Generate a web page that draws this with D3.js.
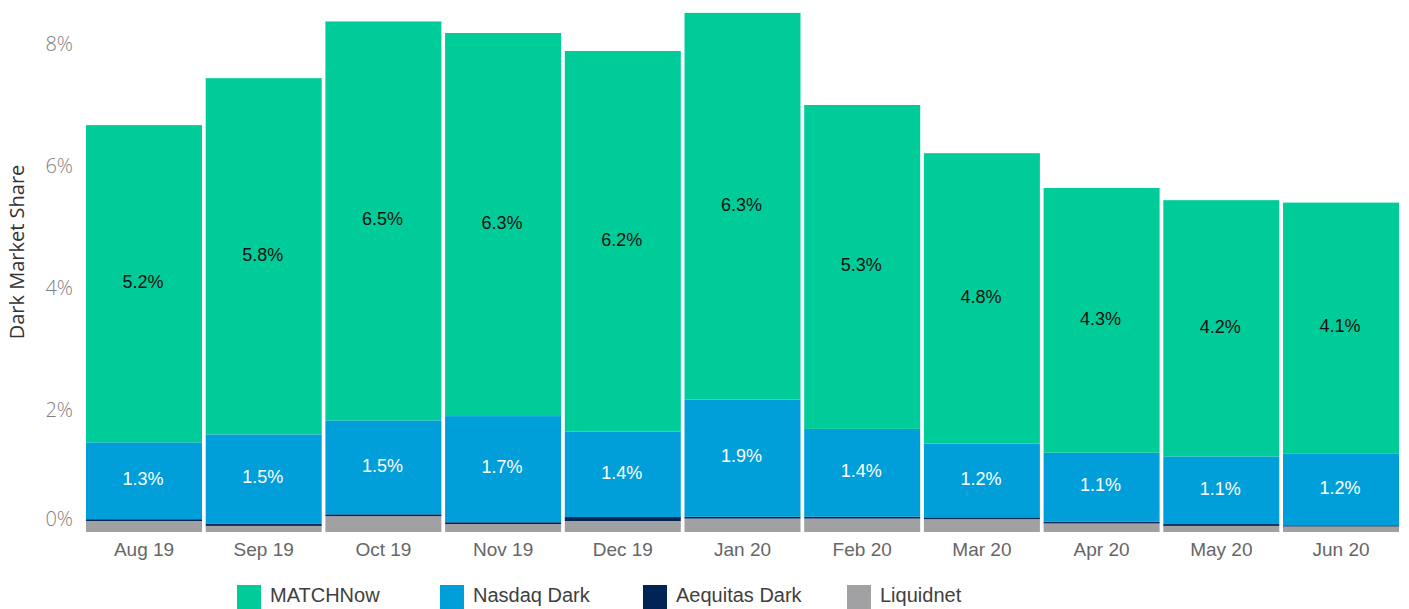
<!DOCTYPE html>
<html>
<head>
<meta charset="utf-8">
<script src="https://cdn.jsdelivr.net/npm/d3@7"></script>
<style>
  body { margin: 0; background: #fff; }
  svg { display: block; }
</style>
</head>
<body>
<figure id="chart" style="margin:0"></figure>
<script>
// months on the x axis
const months = ["Aug 19", "Sep 19", "Oct 19", "Nov 19", "Dec 19", "Jan 20",
                "Feb 20", "Mar 20", "Apr 20", "May 20", "Jun 20"];
// dark market share per venue, in %
const liquidnet = [0.18, 0.10, 0.26, 0.13, 0.18, 0.22, 0.22, 0.21, 0.14, 0.10, 0.09];
const aequitasDark = [0.03, 0.04, 0.03, 0.03, 0.065, 0.03, 0.03, 0.03, 0.03, 0.03, 0.02];
const nasdaqDark = [1.26, 1.46, 1.54, 1.74, 1.40, 1.92, 1.44, 1.21, 1.13, 1.11, 1.18];
const matchNow = [5.20, 5.84, 6.54, 6.28, 6.24, 6.34, 5.31, 4.76, 4.34, 4.20, 4.11];
const yTicks = [0, 2, 4, 6, 8];

const seriesNames = ["Liquidnet", "Aequitas Dark", "Nasdaq Dark", "MATCHNow"];
const colors = {
  "MATCHNow": "#00cc99",
  "Nasdaq Dark": "#009fda",
  "Aequitas Dark": "#002554",
  "Liquidnet": "#a1a1a3"
};
const legendOrder = ["MATCHNow", "Nasdaq Dark", "Aequitas Dark", "Liquidnet"];

const width = 1409, height = 609;

const rows = months.map((m, i) => ({
  month: m,
  "Liquidnet": liquidnet[i],
  "Aequitas Dark": aequitasDark[i],
  "Nasdaq Dark": nasdaqDark[i],
  "MATCHNow": matchNow[i]
}));

const svg = d3.select("#chart")
  .append("svg")
  .attr("width", width)
  .attr("height", height);

const x = d3.scaleBand()
  .domain(months)
  .range([86, 1399])
  .paddingInner(0.031)
  .paddingOuter(0);

const y = d3.scaleLinear()
  .domain([0, 8])
  .range([532, 44]);

const stack = d3.stack().keys(seriesNames);
const layers = stack(rows);

// bars
svg.selectAll("g.layer")
  .data(layers)
  .enter()
  .append("g")
  .attr("class", "layer")
  .attr("fill", d => colors[d.key])
  .selectAll("rect")
  .data(d => d)
  .enter()
  .append("rect")
  .attr("x", d => x(d.data.month))
  .attr("width", x.bandwidth())
  .attr("y", d => y(d[1]))
  .attr("height", d => y(d[0]) - y(d[1]));

// value labels for MATCHNow and Nasdaq Dark
const fmt = d3.format(".1f");
layers.filter(l => l.key == "MATCHNow" || l.key == "Nasdaq Dark").forEach(l => {
  svg.append("g")
    .selectAll("text")
    .data(l)
    .enter()
    .append("text")
    .attr("x", d => x(d.data.month) + x.bandwidth() / 2 - 1)
    .attr("y", d => (y(d[0]) + y(d[1])) / 2 - 2)
    .attr("dy", "0.35em")
    .attr("text-anchor", "middle")
    .style("font-family", "Arial, 'Liberation Sans', sans-serif")
    .style("font-size", "18px")
    .attr("fill", l.key == "MATCHNow" ? "#111" : "#fff")
    .text(d => fmt(d[1] - d[0]) + "%");
});

// y axis (labels only)
const yAxis = svg.append("g")
  .attr("transform", "translate(73,0)")
  .call(d3.axisLeft(y).tickValues(yTicks).tickSize(0).tickPadding(0).tickFormat(d => d + "%"));
yAxis.select(".domain").remove();
yAxis.selectAll("text")
  .style("font-family", "'Open Sans', sans-serif")
  .style("font-weight", "300")
  .style("font-size", "20px")
  .attr("fill", "#7f7f7f")
  .attr("dy", d => d == 0 ? "-0.35em" : "0.32em");

// y axis title
svg.append("text")
  .attr("transform", "translate(24,252) rotate(-90)")
  .attr("text-anchor", "middle")
  .style("font-family", "'Open Sans', sans-serif")
  .style("font-size", "20px")
  .attr("fill", "#333")
  .text("Dark Market Share");

// x axis (labels only)
const xAxis = svg.append("g")
  .attr("transform", "translate(0,542)")
  .call(d3.axisBottom(x).tickSize(0).tickPadding(0));
xAxis.select(".domain").remove();
xAxis.selectAll("text")
  .style("font-family", "Arial, 'Liberation Sans', sans-serif")
  .style("font-size", "19px")
  .attr("fill", "#666")
  .attr("dy", "0.75em");

// legend
const legendX = [237, 440, 643, 847];
const legend = svg.append("g")
  .selectAll("g")
  .data(legendOrder)
  .enter()
  .append("g")
  .attr("transform", (d, i) => "translate(" + legendX[i] + ",585)");
legend.append("rect")
  .attr("width", 24)
  .attr("height", 24)
  .attr("fill", d => colors[d]);
legend.append("text")
  .attr("x", 33)
  .attr("y", 17)
  .style("font-family", "Arial, 'Liberation Sans', sans-serif")
  .style("font-size", "20px")
  .attr("fill", "#404040")
  .text(d => d);
</script>
</body>
</html>
